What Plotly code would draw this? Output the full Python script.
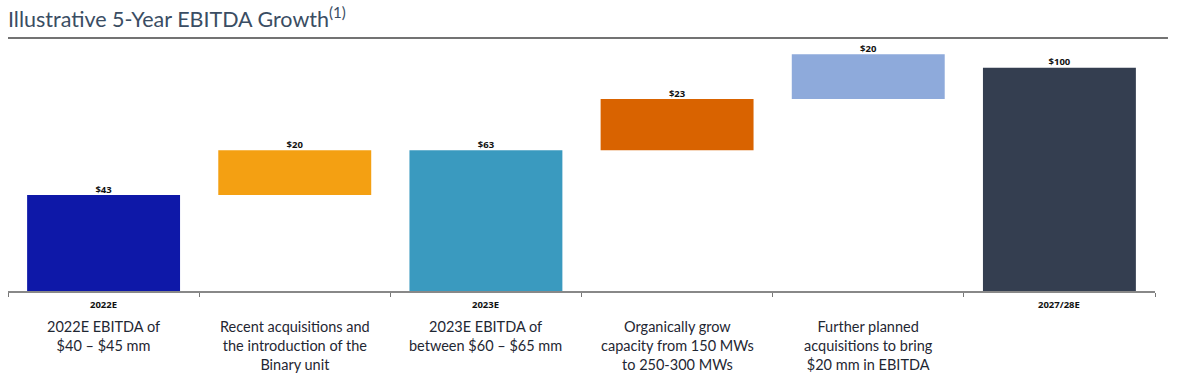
import plotly.graph_objects as go

categories = ["2022E", "Acquisitions", "2023E", "Organic", "Further", "2027/28E"]
tick_labels = ["2022E", "", "2023E", "", "", "2027/28E"]
values = [43, 20, 63, 23, 20, 100]
bases = [0, 43, 0, 63, 86, 0]
value_labels = ["$43", "$20", "$63", "$23", "$20", "$100"]
colors = ["#0E18A8", "#F4A012", "#3A9ABF", "#D96300", "#8EAADB", "#343E50"]
descriptions = [
    "2022E EBITDA of<br>$40 – $45 mm",
    "Recent acquisitions and<br>the introduction of the<br>Binary unit",
    "2023E EBITDA of<br>between $60 – $65 mm",
    "Organically grow<br>capacity from 150 MWs<br>to 250-300 MWs",
    "Further planned<br>acquisitions to bring<br>$20 mm in EBITDA",
    "",
]

tops = [b + v for b, v in zip(bases, values)]

fig = go.Figure()
fig.add_trace(go.Bar(
    x=categories, y=values, base=bases,
    marker=dict(color=colors, line=dict(width=0)),
    width=0.8, showlegend=False, hoverinfo="skip",
))
fig.add_trace(go.Scatter(
    x=categories, y=tops, mode="text", text=value_labels,
    textposition="top center",
    textfont=dict(family="Open Sans", size=9.5, color="#111111", weight="bold"),
    showlegend=False, hoverinfo="skip", cliponaxis=False,
))

for c, t in zip(categories, tick_labels):
    if t:
        fig.add_annotation(
            x=c, y=-0.02, xref="x", yref="paper", text=t, showarrow=False,
            xanchor="center", yanchor="top",
            font=dict(family="Open Sans", size=9.5, color="#111111", weight="bold"),
        )

for c, d in zip(categories, descriptions):
    if d:
        fig.add_annotation(
            x=c, y=-0.1, xref="x", yref="paper", text=d, showarrow=False,
            xanchor="center", yanchor="top", align="center",
            font=dict(family="Lato", size=14.5, color="#1F2733"),
        )

fig.add_annotation(
    x=0, y=1, xref="paper", yref="paper", xshift=-2, yshift=39,
    text="Illustrative 5-Year EBITDA Growth<sup>(1)</sup>", showarrow=False,
    xanchor="left", yanchor="top",
    font=dict(family="Lato", size=21.5, color="#3A4D63"),
)
fig.add_shape(
    type="line", xref="paper", yref="paper", x0=0, x1=1.0113, y0=1.008, y1=1.008,
    line=dict(color="#444444", width=1.5),
)

fig.update_layout(
    width=1178, height=382,
    margin=dict(l=8, r=23, t=40, b=91),
    paper_bgcolor="white", plot_bgcolor="white",
    bargap=0.2,
    xaxis=dict(
        type="category", tickmode="array", tickvals=categories,
        tickson="boundaries", ticks="outside", ticklen=4, tickcolor="#777777",
        showline=True, linecolor="#888888", linewidth=2, showgrid=False,
        showticklabels=False, range=[-0.5, 5.5],
    ),
    yaxis=dict(range=[0, 112.4], visible=False, showgrid=False, zeroline=False),
)

fig.write_html("out.html", config={"displayModeBar": False},
               post_script="document.body.style.margin='0';")
